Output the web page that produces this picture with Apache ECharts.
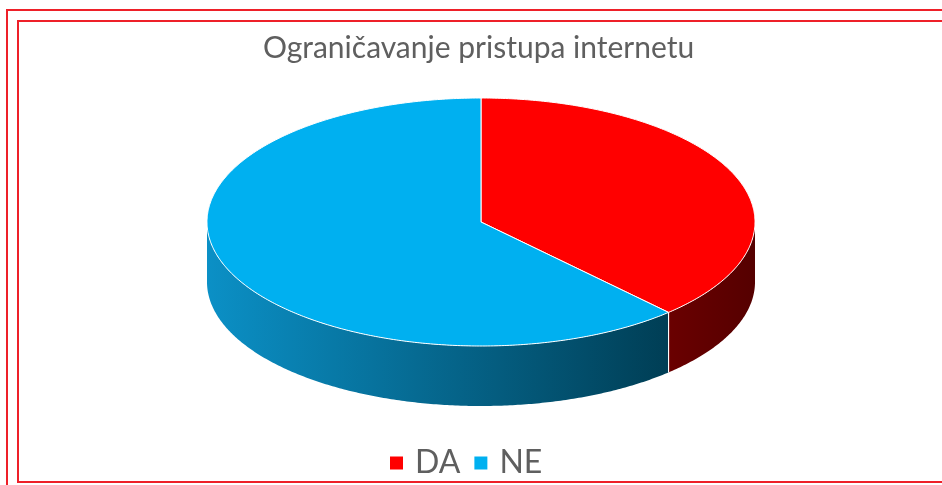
<!DOCTYPE html>
<html>
<head>
<meta charset="utf-8">
<script src="https://cdn.jsdelivr.net/npm/echarts@6/dist/echarts.min.js"></script>
<style>
  html, body { margin: 0; padding: 0; background: #fff; }
  #chart { width: 942px; height: 485px; }
</style>
</head>
<body>
<div id="chart"></div>
<script>
  // podaci
  var categories = ['DA', 'NE']
  var values = [38, 62]
  var topColors = ['#ff0000', '#00b0f0']
  var sideColors = [['#6a0000', '#550000'], ['#0b90c6', '#003e55']]

  // geometrija "3D" torte
  var cx = 481, cy = 222, rx = 274, ry = 124, depth = 60
  var total = values.reduce(function (a, b) { return a + b }, 0)

  function pt (t, dy) {
    return [cx + rx * Math.cos(t), cy + ry * Math.sin(t) + (dy || 0)]
  }

  function arc (t1, t2, dy) {
    var pts = []
    var n = Math.max(2, Math.ceil(Math.abs(t2 - t1) / 0.01))
    for (var i = 0; i <= n; i++) {
      pts.push(pt(t1 + (t2 - t1) * i / n, dy))
    }
    return pts
  }

  function startAngle (idx) {
    var cum = 0
    for (var i = 0; i < idx; i++) cum += values[i]
    return -Math.PI / 2 + 2 * Math.PI * cum / total
  }

  function sliceRenderer (idx) {
    return function (params, api) {
      var v = api.value(0)
      var t1 = startAngle(idx)
      var t2 = t1 + 2 * Math.PI * v / total
      var children = []

      // bocni zid - samo prednja polovina (0..PI)
      var s1 = Math.max(t1, 0), s2 = Math.min(t2, Math.PI)
      if (s2 > s1) {
        var top = arc(s1, s2, 0)
        var bottom = arc(s2, s1, depth)
        var xs = top.map(function (p) { return p[0] })
        var minX = Math.min.apply(null, xs), maxX = Math.max.apply(null, xs)
        children.push({
          type: 'polygon',
          z2: 1,
          shape: { points: top.concat(bottom) },
          style: {
            fill: {
              type: 'linear', x: minX, y: 0, x2: maxX, y2: 0, global: true,
              colorStops: [
                { offset: 0, color: sideColors[idx][0] },
                { offset: 1, color: sideColors[idx][1] }
              ]
            },
            stroke: null
          }
        })
        // bijela okomita linija na rubu kriske
        ;[t1, t2].forEach(function (t) {
          if (t > 0.02 && t < Math.PI - 0.02) {
            var a = pt(t, 0), b = pt(t, depth)
            children.push({
              type: 'line',
              z2: 5,
              shape: { x1: a[0], y1: a[1], x2: b[0], y2: b[1] },
              style: { stroke: '#ffffff', lineWidth: 1 }
            })
          }
        })
      }

      // gornja ploha
      children.push({
        type: 'polygon',
        z2: 10,
        shape: { points: [[cx, cy]].concat(arc(t1, t2, 0)) },
        style: { fill: topColors[idx], stroke: '#ffffff', lineWidth: 1 }
      })

      return { type: 'group', children: children }
    }
  }

  var myChart = echarts.init(document.getElementById('chart'))
  var option = {
    animation: false,
    color: topColors,
    title: {
      text: 'Ograničavanje pristupa internetu',
      left: 258,
      top: 28,
      textStyle: {
        fontFamily: 'Lato',
        fontSize: 30,
        fontWeight: 'normal',
        color: '#5f5f5f'
      }
    },
    legend: {
      data: categories,
      left: 385,
      top: 442,
      icon: 'rect',
      itemWidth: 13,
      itemHeight: 13,
      itemGap: 14,
      textStyle: {
        fontFamily: 'Lato',
        fontSize: 32,
        color: '#5f5f5f',
        padding: [0, 0, 0, 7]
      }
    },
    graphic: [
      {
        type: 'rect',
        shape: { x: 7, y: 10, width: 960, height: 500 },
        style: { fill: null, stroke: '#ee2029', lineWidth: 2 },
        silent: true
      },
      {
        type: 'rect',
        shape: { x: 18, y: 21, width: 950, height: 461 },
        style: { fill: null, stroke: '#ee2029', lineWidth: 2 },
        silent: true
      }
    ],
    series: categories.map(function (name, i) {
      return {
        name: name,
        type: 'custom',
        coordinateSystem: 'none',
        renderItem: sliceRenderer(i),
        data: [[values[i]]]
      }
    })
  }
  myChart.setOption(option)
</script>
</body>
</html>
